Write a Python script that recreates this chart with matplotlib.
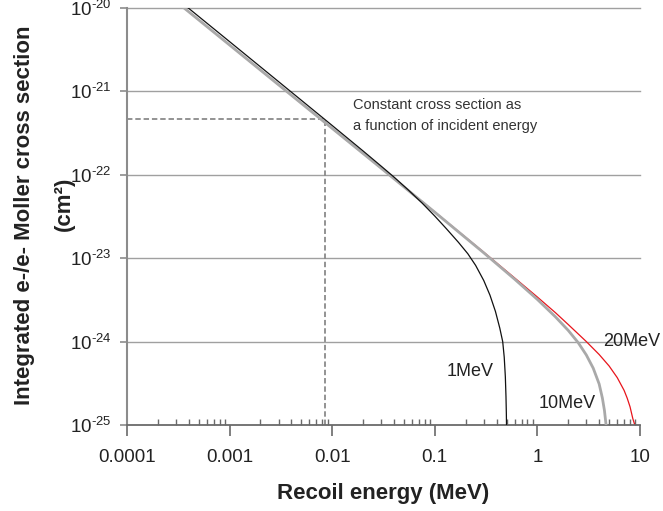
import matplotlib
matplotlib.use("Agg")
import matplotlib.pyplot as plt
from matplotlib.ticker import LogLocator, FixedLocator, NullFormatter, NullLocator

plt.rcParams["font.family"] = ["Liberation Sans", "DejaVu Sans"]
plt.rcParams["mathtext.fontset"] = "custom"
plt.rcParams["mathtext.rm"] = "Liberation Sans"
plt.rcParams["mathtext.it"] = "Liberation Sans"
plt.rcParams["mathtext.bf"] = "Liberation Sans:bold"

# Integrated Moller cross section (cm^2) vs recoil energy (MeV)
e_1mev = [3e-4, 1e-3, 3e-3, 0.01, 0.02, 0.03, 0.04, 0.055, 0.075, 0.1, 0.13, 0.17,
          0.21, 0.25, 0.3, 0.345, 0.39, 0.43, 0.459, 0.475, 0.487, 0.494, 0.498, 0.5]
xs_1mev = [1.32e-20, 3.95e-21, 1.31e-21, 3.9e-22, 1.93e-22, 1.27e-22, 9.4e-23, 6.6e-23,
           4.6e-23, 3.2e-23, 2.25e-23, 1.55e-23, 1.13e-23, 8.2e-24, 5.4e-24, 3.6e-24,
           2.3e-24, 1.45e-24, 1.0e-24, 6.5e-25, 3.8e-25, 2.2e-25, 1.4e-25, 1.0e-25]

e_10mev = [3e-4, 1e-3, 3e-3, 0.01, 0.03, 0.1, 0.3, 0.6, 1.0, 1.5, 2.0, 2.5, 3.0,
           3.5, 4.0, 4.3, 4.5, 4.67]
xs_10mev = [1.2e-20, 3.6e-21, 1.2e-21, 3.6e-22, 1.2e-22, 3.56e-23, 1.16e-23, 5.6e-24,
            3.2e-24, 1.98e-24, 1.36e-24, 9.7e-25, 6.9e-25, 4.8e-25, 3.1e-25, 2.1e-25,
            1.5e-25, 1.0e-25]

e_20mev = [3e-4, 1e-3, 3e-3, 0.01, 0.03, 0.1, 0.3, 0.6, 1.0, 1.5, 2.0, 3.0, 4.0,
           5.0, 6.0, 7.0, 7.5, 8.0, 8.5, 8.9]
xs_20mev = [1.2e-20, 3.6e-21, 1.2e-21, 3.6e-22, 1.2e-22, 3.58e-23, 1.18e-23, 5.8e-24,
            3.42e-24, 2.22e-24, 1.6e-24, 1.0e-24, 7.0e-25, 5.1e-25, 3.7e-25, 2.6e-25,
            2.1e-25, 1.65e-25, 1.2e-25, 1.0e-25]

# Reference point for the constant-cross-section guide
guide_energy = 0.0086
guide_xs = 4.7e-22

x_ticks = [1e-4, 1e-3, 1e-2, 1e-1, 1, 10]
x_tick_labels = ["0.0001", "0.001", "0.01", "0.1", "1", "10"]
y_ticks = [1e-25, 1e-24, 1e-23, 1e-22, 1e-21, 1e-20]
y_exponents = ["25", "24", "23", "22", "21", "20"]

fig = plt.figure(figsize=(6.63, 5.11), dpi=100)
ax = fig.add_axes([127 / 663, 1 - 425 / 511, 513 / 663, 417 / 511])
ax.set_xscale("log")
ax.set_yscale("log")
ax.set_xlim(1e-4, 10)
ax.set_ylim(1e-25, 1e-20)

# horizontal grid lines at each decade
for yv in y_ticks[1:]:
    ax.axhline(yv, color="#a0a0a0", lw=1.0, zorder=0, clip_on=False)

ax.plot(e_20mev, xs_20mev, color="#e8141b", lw=0.9, zorder=2)
ax.plot(e_10mev, xs_10mev, color="#a9a9a9", lw=2.0, zorder=3)
ax.plot(e_1mev, xs_1mev, color="#111111", lw=0.9, zorder=4)

ax.plot([1e-4, guide_energy], [guide_xs, guide_xs], color="#8a8a8a", lw=1.3,
        ls=(0, (3, 1.6)), zorder=1)
ax.plot([guide_energy, guide_energy], [1e-25, guide_xs], color="#8a8a8a", lw=1.3,
        ls=(0, (3, 1.6)), zorder=1)

for s in ["top", "right"]:
    ax.spines[s].set_visible(False)
ax.spines["left"].set_color("#8c8c8c")
ax.spines["left"].set_linewidth(1.5)
ax.spines["bottom"].set_color("#6a6a6a")
ax.spines["bottom"].set_linewidth(1.3)

ax.xaxis.set_major_locator(FixedLocator(x_ticks))
ax.set_xticklabels(x_tick_labels)
ax.xaxis.set_minor_locator(LogLocator(base=10, subs=[2, 3, 4, 5, 6, 7, 8, 9], numticks=20))
ax.xaxis.set_minor_formatter(NullFormatter())
ax.yaxis.set_major_locator(FixedLocator(y_ticks))
ax.set_yticklabels([r"$10^{\text{-}%s}$" % e for e in y_exponents])
ax.yaxis.set_minor_locator(NullLocator())

ax.tick_params(axis="x", which="major", direction="out", length=8, width=1.2,
               color="#6a6a6a", labelsize=13.5, labelcolor="#222222", pad=9)
ax.tick_params(axis="x", which="minor", direction="in", length=4, width=1.0,
               color="#6a6a6a")
ax.tick_params(axis="y", which="major", direction="out", length=5, width=1.2,
               color="#8c8c8c", labelsize=13.5, labelcolor="#222222", pad=6)

fig.text(353 / 663, 1 - 105 / 511, "Constant cross section as", fontsize=10.5,
         color="#333333", va="center", ha="left")
fig.text(353 / 663, 1 - 126 / 511, "a function of incident energy", fontsize=10.5,
         color="#333333", va="center", ha="left")

fig.text(470 / 663, 1 - 372 / 511, "1MeV", fontsize=13, color="#222222",
         ha="center", va="center")
fig.text(567 / 663, 1 - 404 / 511, "10MeV", fontsize=13, color="#222222",
         ha="center", va="center")
fig.text(632 / 663, 1 - 341 / 511, "20MeV", fontsize=13, color="#222222",
         ha="center", va="center")

fig.text(383 / 663, 1 - 494 / 511, "Recoil energy (MeV)", fontsize=16, fontweight="bold",
         color="#222222", ha="center", va="center")
fig.text(25 / 663, 1 - 215 / 511, "Integrated e-/e- Moller cross section", fontsize=16,
         fontweight="bold", color="#222222", ha="center", va="center", rotation=90)
fig.text(64 / 663, 1 - 204 / 511, "(cm²)", fontsize=16, fontweight="bold",
         color="#222222", ha="center", va="center", rotation=90)

fig.savefig("out.png", dpi=100)
